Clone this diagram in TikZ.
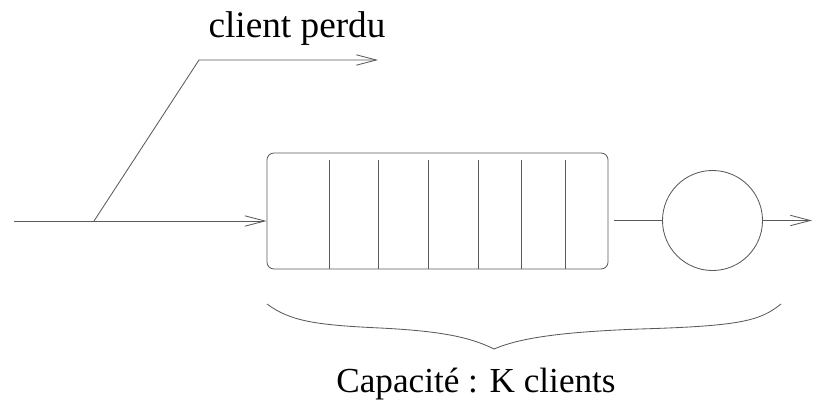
\documentclass[tikz,border=0pt]{standalone}
\usepackage{fontspec}
\setmainfont{Liberation Serif}
\usepackage{tikz}
\usetikzlibrary{positioning, arrows.meta}
\definecolor{linegray}{RGB}{90, 90, 90}
\tikzset{
    flowline/.style={
        draw=linegray,
        line width=0.6pt
    },
    arrow/.style={
        flowline,
        -{Straight Barb[length=5mm,width=2.6mm,line width=0.6pt]}
    },
    queuebox/.style={
        flowline,
        rounded corners=5pt,
        minimum width=8.525cm,
        minimum height=2.9cm,
        inner sep=0pt
    },
    serverbox/.style={
        flowline,
        circle,
        minimum size=2.5cm,
        inner sep=0pt
    },
    labeltext/.style={
        font=\fontsize{25}{30}\selectfont,
        inner sep=0pt
    }
}

\begin{document}
\begin{tikzpicture}[x=0.025cm, y=-0.025cm]

\useasboundingbox (0,0) rectangle (818,413);

% ---------------------------------------------------------
% Nodes
% ---------------------------------------------------------

% Queue with K places
\node[queuebox] (queue) at (437.5,211) {};

% Server
\node[serverbox] (server) at (712.5,220.5) {};

% Labels
\node[labeltext, font=\fontsize{26.5}{30}\selectfont] (lostlabel) at (297,29) {client perdu};
\node[labeltext] (capacity) at (476,384) {Capacité : K clients};

% Free ends
\coordinate (src) at (14,221);
\coordinate (split) at (94,221);
\coordinate (bend) at (199,60);
\coordinate (lost) at (378,60);
\coordinate (exit) at (812,220.5);

% ---------------------------------------------------------
% Arrows
% ---------------------------------------------------------

% Arrivals -> queue
\draw[arrow] (src) -- (split -| queue.west);

% Rejected client
\draw[arrow] (split) -- (bend) -- (lost);

% Queue slots
\foreach \x in {329, 378, 428, 478, 521, 565}
    \draw[flowline] (\x,160) -- (\x,160 |- queue.south);

% Queue -> server -> out
\draw[flowline, shorten <=0.15cm] (server.west -| queue.east) -- (server.west);
\draw[arrow] (server.east) -- (exit);

% Brace under the system
\draw[flowline] (267,304) .. controls (290,321) and (315,325) .. (380,328)
    .. controls (440,331) and (470,337) .. (494,349)
    .. controls (520,338) and (560,332) .. (640,329)
    .. controls (740,326) and (760,321) .. (781,304);

\end{tikzpicture}
\end{document}
